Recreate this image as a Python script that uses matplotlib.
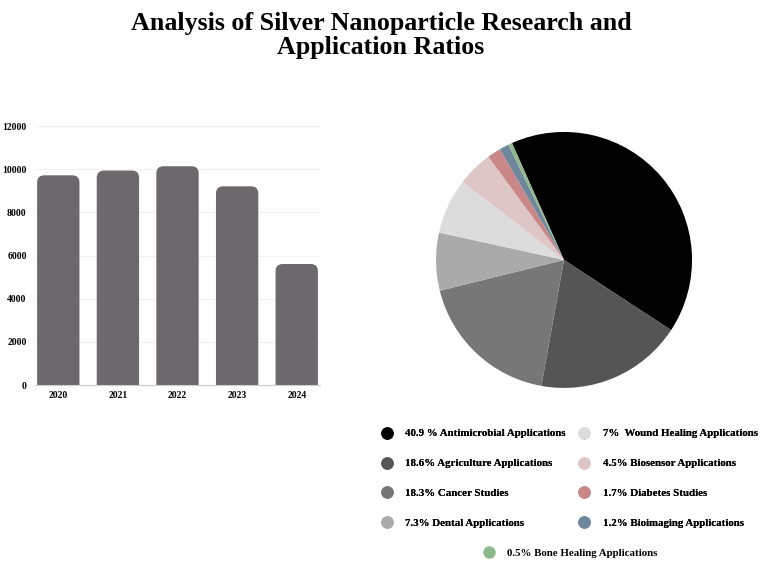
import matplotlib.pyplot as plt
from matplotlib.patches import FancyBboxPatch
from matplotlib.lines import Line2D

plt.rcParams['font.family'] = ['Liberation Serif', 'DejaVu Serif']
plt.rcParams['font.weight'] = 'bold'

years = ["2020", "2021", "2022", "2023", "2024"]
papers = [9720, 9940, 10140, 9210, 5610]

app_labels = ["40.9 % Antimicrobial Applications", "18.6% Agriculture Applications",
              "18.3% Cancer Studies", "7.3% Dental Applications",
              "7%  Wound Healing Applications", "4.5% Biosensor Applications",
              "1.7% Diabetes Studies", "1.2% Bioimaging Applications",
              "0.5% Bone Healing Applications"]
app_share = [40.9, 18.6, 18.3, 7.3, 7.0, 4.5, 1.7, 1.2, 0.5]
app_colors = ["#000000", "#555555", "#777777", "#aaaaaa", "#dcdcdc",
              "#dfc6c6", "#c98787", "#6e879c", "#8fb88f"]

fig = plt.figure(figsize=(7.65, 5.68), dpi=100)

fig.text(0.498, 0.937, "Analysis of Silver Nanoparticle Research and\nApplication Ratios",
         ha="center", va="center", fontsize=18.7, fontweight="bold", linespacing=1.05)

# bar chart
ax = fig.add_axes([0.0458, 0.322, 0.3725, 0.456])
bars = ax.bar(years, papers, width=0.71, color="#6d686b", zorder=2)
ax.set_ylim(0, 12000)
ax.set_xlim(-0.39, 4.39)
# round the bar tops
for b in bars:
    x0, w, h = b.get_x(), b.get_width(), b.get_height()
    b.set_visible(False)
    r = 0.12
    aspect = 12000 / 4.78 * (285 / 259)
    p = FancyBboxPatch((x0, -1000), w, h + 1000,
                       boxstyle="round,pad=0,rounding_size=%g" % r,
                       mutation_aspect=aspect, fc="#6d686b", ec="none", zorder=2)
    ax.add_patch(p)
ax.set_yticks(range(0, 12001, 2000))
ax.grid(axis="y", color="#f0f0f0", linewidth=0.8, zorder=0)
for s in ["top", "right", "left"]:
    ax.spines[s].set_visible(False)
ax.spines["bottom"].set_color("#cccccc")
ax.spines["bottom"].set_linewidth(0.8)
ax.tick_params(length=0, labelsize=7, pad=4)
ax.tick_params(axis="y", pad=6)
for lab in ax.get_xticklabels() + ax.get_yticklabels():
    lab.set_fontweight("bold")

# pie chart
ax2 = fig.add_axes([0.570, 0.317, 0.3346, 0.4507])
ax2.pie(app_share, colors=app_colors, startangle=114, counterclock=False,
        wedgeprops=dict(linewidth=0))
ax2.set_xlim(-1, 1)
ax2.set_ylim(-1, 1)
ax2.set_aspect("equal")

handles = [Line2D([], [], marker="o", linestyle="none", markersize=9,
                  markerfacecolor=c, markeredgecolor="none") for c in app_colors]
leg_font = dict(size=7.8, weight="bold")
leg1 = fig.legend(handles[:8], app_labels[:8], ncol=2, loc="center",
                  bbox_to_anchor=(0.744, 0.1576), frameon=False,
                  prop=leg_font, handletextpad=1.1,
                  columnspacing=1.1, labelspacing=1.88, handlelength=1.2)
fig.add_artist(leg1)
fig.legend(handles[8:], app_labels[8:], loc="center",
           bbox_to_anchor=(0.745, 0.0264), frameon=False,
           prop=leg_font, handletextpad=1.1, handlelength=1.2)

fig.savefig("out.png", dpi=100)
